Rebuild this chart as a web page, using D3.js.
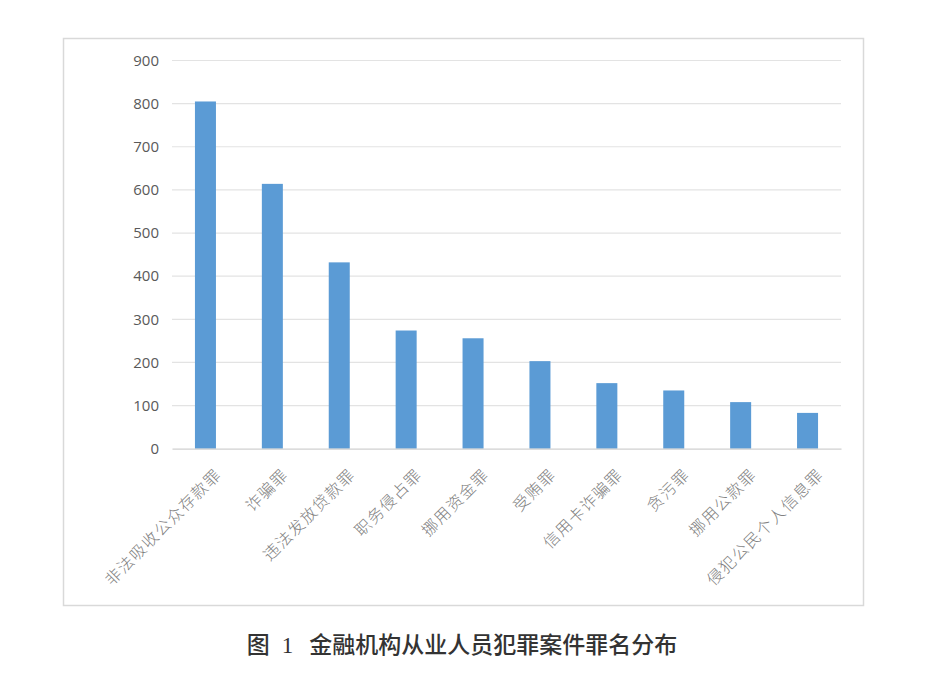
<!DOCTYPE html>
<html>
<head>
<meta charset="utf-8">
<script src="https://cdn.jsdelivr.net/npm/d3@7"></script>
<style>
  html, body { margin: 0; padding: 0; background: #ffffff; }
  svg { display: block; }
</style>
</head>
<body>
<svg id="chart" width="929" height="674"></svg>
<script>
const categories = ["非法吸收公众存款罪", "诈骗罪", "违法发放贷款罪", "职务侵占罪", "挪用资金罪", "受贿罪", "信用卡诈骗罪", "贪污罪", "挪用公款罪", "侵犯公民个人信息罪"];
const values = [805, 614, 432, 274, 256, 203, 152, 135, 108, 83];
const yTicks = [0, 100, 200, 300, 400, 500, 600, 700, 800, 900];
const titleParts = ["图", "1", "金融机构从业人员犯罪案件罪名分布"];

const svg = d3.select("#chart");

// outer frame
svg.append("rect")
  .attr("x", 63.5).attr("y", 38.5)
  .attr("width", 800).attr("height", 567)
  .attr("fill", "#ffffff")
  .attr("stroke", "#d9d9d9").attr("stroke-width", 1.5);

const x0 = 172, x1 = 841, yTop = 60.5, yBottom = 448.7;

const x = d3.scaleBand().domain(categories).range([x0, x1])
  .paddingInner(0.686).paddingOuter(0.343);
const y = d3.scaleLinear().domain([0, 900]).range([yBottom, yTop]);

// gridlines
svg.append("g").selectAll("line").data(yTicks.filter(d => d > 0)).join("line")
  .attr("x1", x0).attr("x2", x1)
  .attr("y1", d => y(d)).attr("y2", d => y(d))
  .attr("stroke", "#e3e3e3").attr("stroke-width", 1.2);

// y axis labels
const yAxis = d3.axisLeft(y).tickValues(yTicks).tickSize(0).tickPadding(13);
const gy = svg.append("g").attr("transform", `translate(${x0},0)`).call(yAxis);
gy.select(".domain").remove();
gy.selectAll("text")
  .attr("font-family", "'Open Sans', 'Noto Sans', sans-serif")
  .attr("font-size", 15)
  .attr("fill", "#595959");

// bars
svg.append("g").selectAll("rect").data(categories).join("rect")
  .attr("x", d => x(d))
  .attr("y", (d, i) => y(values[i]))
  .attr("width", x.bandwidth())
  .attr("height", (d, i) => y(0) - y(values[i]))
  .attr("fill", "#5b9bd5");

// x axis
const xAxis = d3.axisBottom(x).tickSize(0).tickPadding(0);
const gx = svg.append("g").attr("transform", `translate(0,${yBottom})`).call(xAxis);
gx.select(".domain").attr("stroke", "#d0d0d0").attr("stroke-width", 1.2);
gx.selectAll(".tick text")
  .attr("font-family", "'Noto Sans CJK SC', sans-serif")
  .attr("font-size", 16)
  .attr("font-weight", 300)
  .attr("letter-spacing", 1.4)
  .attr("fill", "#808080")
  .attr("text-anchor", "end")
  .attr("dy", 0)
  .attr("y", 0)
  .attr("transform", "translate(17,27) rotate(-45)");

// caption
const cap = svg.append("text")
  .attr("x", 462).attr("y", 653)
  .attr("text-anchor", "middle")
  .attr("font-family", "'Noto Sans CJK SC', sans-serif")
  .attr("font-size", 23)
  .attr("font-weight", 500)
  .attr("fill", "#333333");
cap.append("tspan").text(titleParts[0]);
cap.append("tspan").attr("dx", 12).attr("font-family", "'Liberation Serif', serif").attr("font-weight", 400).text(titleParts[1]);
cap.append("tspan").attr("dx", 16).text(titleParts[2]);
</script>
</body>
</html>
